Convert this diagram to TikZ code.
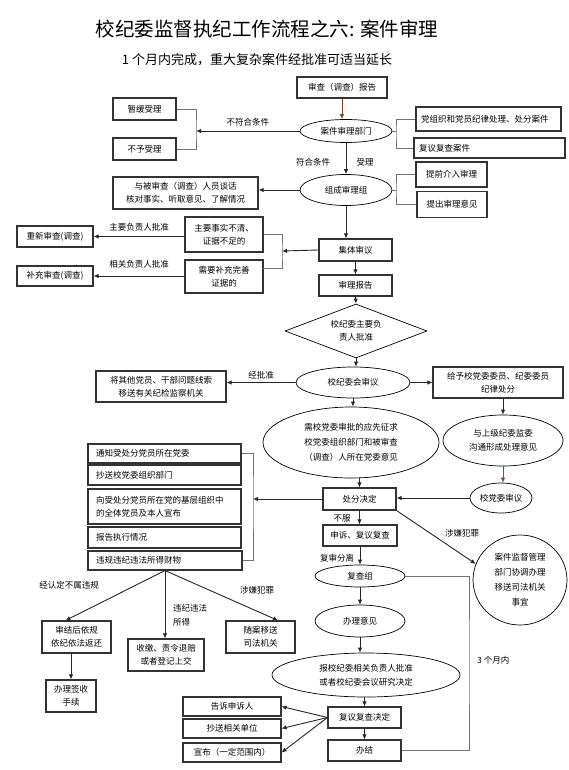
\documentclass[tikz,border=0pt]{standalone}
\usepackage{fontspec}
\setmainfont{Noto Sans CJK SC}
\usetikzlibrary{shapes.geometric,arrows.meta}
\definecolor{brd}{HTML}{333333}
\definecolor{brn}{RGB}{140,70,25}
\tikzset{
 bx/.style={draw=brd, line width=1.1pt, fill=white, align=center, inner sep=1pt, font=\fontsize{8.5}{13}\selectfont},
 lbx/.style={bx, text width=#1, align=left, inner xsep=8pt},
 el/.style={ellipse, draw=black, line width=0.7pt, fill=white, align=center, inner sep=0pt, font=\fontsize{8.5}{13}\selectfont},
 arr/.style={draw=black!85, line width=0.9pt, -{Latex[length=5pt,width=4.5pt]}},
 barr/.style={draw=brn, line width=0.9pt, -{Latex[length=5pt,width=4.5pt]}},
 brkt/.style={draw=black!55, line width=0.9pt},
 lbl/.style={font=\fontsize{8.5}{13}\selectfont, inner sep=0pt},
}
\begin{document}
\begin{tikzpicture}[x=1pt,y=-1pt]
\useasboundingbox (0,0) rectangle (569,770);
% titles
\node[font=\fontsize{19.5}{21}\selectfont] (title) at (267,29) {校纪委监督执纪工作流程之六: 案件审理};
\node[font=\fontsize{13}{15}\selectfont] (sub) at (257,60) {1 个月内完成，重大复杂案件经批准可适当延长};

% top part
\node[bx, minimum width=90, minimum height=21] (rpt) at (342,87.5) {审查（调查）报告};
\node[el, minimum width=92, minimum height=23] (dept) at (346,131) {案件审理部门};
\node[bx, minimum width=63, minimum height=22] (zanhuan) at (144.5,109) {暂缓受理};
\node[bx, minimum width=63, minimum height=22] (buyu) at (144.5,149) {不予受理};
\node[lbx=135, inner xsep=5pt, minimum height=24] (dangzu) at (488.5,119) {党组织和党员纪律处理、处分案件};
\node[lbx=141, inner xsep=5pt, minimum height=20] (fuyi) at (489.5,148) {复议复查案件};
\node[bx, minimum width=71, minimum height=25] (tiqian) at (451.5,174.5) {提前介入审理};
\node[bx, minimum width=70, minimum height=26] (tichu) at (452,204.5) {提出审理意见};
\node[el, minimum width=92, minimum height=31] (zucheng) at (346,190) {组成审理组};
\node[bx, minimum width=145, minimum height=32] (tanhua) at (185.5,193) {与被审查（调查）人员谈话\\核对事实、听取意见、了解情况};
\node[bx, minimum width=78, minimum height=35] (bujing) at (224,234.5) {主要事实不清、\\证据不足的};
\node[bx, minimum width=78, minimum height=33] (buchong) at (224,276.5) {需要补充完善\\证据的};
\node[bx, minimum width=76, minimum height=21] (chongxin) at (55,236.5) {重新审查(调查)};
\node[bx, minimum width=76, minimum height=20] (buchongsc) at (55,276) {补充审查(调查)};
\node[bx, minimum width=73, minimum height=22] (jiti) at (355.5,250) {集体审议};
\node[bx, minimum width=73, minimum height=21] (shenli) at (355.5,285.5) {审理报告};
\node[diamond, aspect=2.6, draw=black, line width=0.7pt, fill=white, inner sep=0pt, minimum width=142, minimum height=54, align=center, font=\fontsize{8.5}{13}\selectfont] (dia) at (356,331) {校纪委主要负\\责人批准};

% middle part
\node[el, minimum width=114, minimum height=31] (xjwh) at (353,382.5) {校纪委会审议};
\node[bx, minimum width=130, minimum height=31] (yisong) at (161,386.5) {将其他党员、干部问题线索\\移送有关纪检监察机关};
\node[bx, minimum width=130, minimum height=31] (geiyu) at (498,382.5) {给予校党委委员、纪委委员\\纪律处分};
\node[el, minimum width=176, minimum height=71, font=\fontsize{8.5}{15}\selectfont] (bigell) at (351,442.5) {需校党委审批的应先征求\\校党委组织部门和被审查\\（调查）人所在党委意见};
\node[el, minimum width=120, minimum height=51, font=\fontsize{8.5}{14}\selectfont] (shangji) at (503,440.5) {与上级纪委监委\\沟通形成处理意见};
\node[el, minimum width=62, minimum height=30] (xdwsy) at (501,498) {校党委审议};
\node[bx, minimum width=73, minimum height=22] (chufen) at (359.5,499) {处分决定};
\node[bx, minimum width=74, minimum height=21] (shensu) at (360,535.5) {申诉、复议复查};
\node[el, minimum width=90, minimum height=22] (fuchazu) at (360,576) {复查组};
\node[el, minimum width=90, minimum height=32] (banli) at (360,621) {办理意见};
\node[el, minimum width=188, minimum height=44, font=\fontsize{8.5}{14}\selectfont] (baoxjw) at (366,675) {报校纪委相关负责人批准\\或者校纪委会议研究决定};
\node[bx, minimum width=73, minimum height=21] (fuyijd) at (364.5,717.5) {复议复查决定};
\node[bx, minimum width=73, minimum height=21] (banjie) at (364.5,750.5) {办结};
\node[el, minimum width=94, minimum height=90, font=\fontsize{8.5}{15}\selectfont] (circ) at (520,580) {案件监督管理\\部门协调办理\\移送司法机关\\事宜};

% left stack
\node[lbx=137, minimum height=19] (tongzhi) at (164.5,453.5) {通知受处分党员所在党委};
\node[lbx=137, minimum height=20] (chaosong) at (164.5,475) {抄送校党委组织部门};
\node[lbx=137, minimum height=35] (xiang) at (164.5,506.5) {向受处分党员所在党的基层组织中\\的全体党员及本人宣布};
\node[lbx=137, minimum height=21] (baogao) at (164.5,537.5) {报告执行情况};
\node[lbx=138, minimum height=19] (weigui) at (165,560.5) {违规违纪违法所得财物};

% bottom left
\node[bx, minimum width=69, minimum height=32] (shenjie) at (76.5,637) {审结后依规\\依纪依法返还};
\node[bx, minimum width=76, minimum height=32] (shoujiao) at (166,655) {收缴、责令退赔\\或者登记上交};
\node[bx, minimum width=69, minimum height=32] (suian) at (260.5,637) {随案移送\\司法机关};
\node[bx, minimum width=50, minimum height=32] (qianshou) at (71,696) {办理签收\\手续};
\node[bx, minimum width=98, minimum height=19] (gaosu) at (232,706.5) {告诉申诉人};
\node[bx, minimum width=98, minimum height=19] (chaosongxg) at (232,728.5) {抄送相关单位};
\node[bx, minimum width=98, minimum height=19] (xuanbu) at (232,752.5) {宣布（一定范围内）};

% bracket coordinates
\coordinate (b1) at (196,131);
\coordinate (b2) at (396,131);
\coordinate (b3) at (396,190);
\coordinate (b4) at (282,251);
\coordinate (b4b) at (263,268);
\coordinate (b5) at (253,499);
\coordinate (r2) at (469,660);

% connectors top
\draw[barr] (rpt.south) -- (rpt.south |- dept.north);
\draw[brkt] (zanhuan.east) -| (b1) |- (buyu.east);
\draw[arr] (dept.west) -- (b1) node[lbl, midway, above=4pt] (l1) {不符合条件};
\draw[brkt] (dept.east) -- (b2);
\draw[brkt] (dangzu.west) -| (b2) |- (fuyi.west);
\draw[arr] (dept.south) -- (zucheng.north);
\node[lbl] (l2) at (313,162) {符合条件};
\node[lbl] (l3) at (365,162) {受理};
\draw[brkt] (zucheng.east) -- (b3);
\draw[brkt] (tiqian.west) -| (b3) |- (tichu.west);
\draw[arr] (zucheng.west) -- (zucheng.west -| tanhua.east);
\draw[arr] (zucheng.south) -- (zucheng.south |- jiti.north);
\draw[arr] (jiti.west) -- (b4);
\draw[brkt] (bujing.east) -| (b4) |- (b4b);
\draw[arr] (bujing.west |- chongxin.east) -- (chongxin.east) node[lbl, midway, above=5pt] (l4) {主要负责人批准};
\draw[arr] (buchong.west |- buchongsc.east) -- (buchongsc.east) node[lbl, midway, above=7pt] (l5) {相关负责人批准};
\draw[arr] (jiti.south) -- (shenli.north);
\draw[arr] (shenli.south) -- (dia.north);
\draw[arr] (dia.south) -- (dia.south |- xjwh.north);

% middle connectors
\draw[arr] (xjwh.west) -- (xjwh.west -| yisong.east) node[lbl, midway, above=3pt] (l6) {经批准};
\draw[arr] (xjwh.east) -- (xjwh.east -| geiyu.west);
\draw[arr] (xjwh.south) -- (xjwh.south |- bigell.north);
\draw[arr] (geiyu.south -| shangji.north) -- (shangji.north);
\draw[barr] (shangji.south) -- (shangji.south |- xdwsy.north);
\draw[arr] (xdwsy.west) -- (xdwsy.west -| chufen.east);
\draw[arr] (bigell.south -| chufen.north) -- (chufen.north);
\draw[arr] (chufen.west) -- (b5);
\draw[brkt] (tongzhi.east) -| (b5) |- (weigui.east);
\draw[arr] (chufen.south) -- (chufen.south |- shensu.north);
\node[lbl] (l7) at (342,518) {不服};
\draw[arr] (shensu.south) -- (fuchazu.north);
\node[lbl] (l8) at (337,558) {复审分离};
\draw[arr] (chufen.south east) -- (circ.160);
\node[lbl] (l9) at (462,533) {涉嫌犯罪};

% lower connectors
\draw[arr] (fuchazu.south) -- (banli.north);
\draw[arr] (banli.south) -- (banli.south |- baoxjw.north);
\draw[arr] (baoxjw.south -| fuyijd.north) -- (fuyijd.north);
\draw[arr] (fuyijd.south) -- (banjie.north);
\draw[brkt] (fuchazu.east) -| (r2) |- (banjie.east);
\node[lbl, anchor=west] (l10) at (477,660) {3 个月内};
\draw[arr] (fuyijd.west) -- (gaosu.east);
\draw[arr] (fuyijd.west) -- (chaosongxg.east);
\draw[arr] (fuyijd.west) -- (xuanbu.east);

% from weigui
\draw[arr] (weigui.south) -- ([xshift=-11]shenjie.north);
\draw[arr] (weigui.south) -- (weigui.south |- shoujiao.north);
\draw[arr] (weigui.south) -- ([xshift=17.5]suian.north);
\node[lbl] (l11) at (69,585) {经认定不属违规};
\node[lbl, anchor=west, align=left, font=\fontsize{8.5}{14}\selectfont] (l12) at (173,615) {违纪违法\\所得};
\node[lbl] (l13) at (257,590) {涉嫌犯罪};
\draw[arr] (shenjie.south -| qianshou.north) -- (qianshou.north);
\end{tikzpicture}
\end{document}
